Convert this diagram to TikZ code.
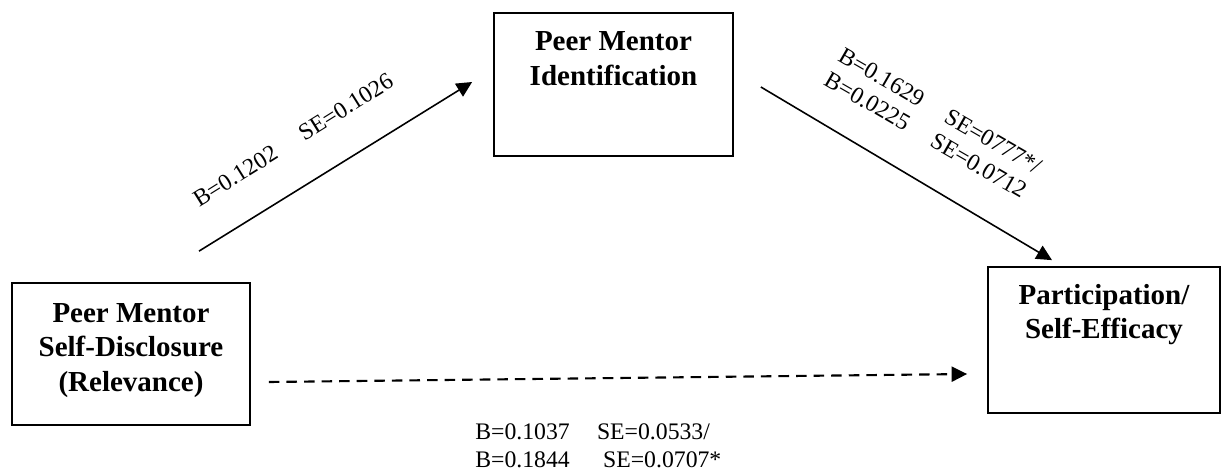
\documentclass[tikz,border=0pt]{standalone}
\usepackage{fontspec}
\setmainfont{Liberation Serif}
\usetikzlibrary{positioning,calc,arrows.meta}
\tikzset{
  box/.style ={draw,line width=1pt,inner sep=0pt},
  btxt/.style={align=center,inner sep=0pt,font=\fontsize{16.5}{19.5}\selectfont\bfseries},
  path/.style={-{Triangle[length=0.31cm,width=0.3cm]},line width=0.9pt},
  dpath/.style={path,dash pattern=on 6pt off 4pt,line width=1.2pt},
  lbl/.style ={inner sep=0pt,align=left,font=\fontsize{13.5}{16}\selectfont},
}
\begin{document}
\begin{tikzpicture}
\useasboundingbox (0,0) rectangle (24.44,-9.46);

% ===================== VARIAVEIS ====================================
\node[box,minimum width=4.76cm,minimum height=2.84cm] (src) at (2.62,-7.08) {};
\node[box,minimum width=4.78cm,minimum height=2.86cm] (med) at (12.27,-1.69) {};
\node[box,minimum width=4.64cm,minimum height=2.92cm] (out) at (22.08,-6.8) {};

\node[btxt,below=12pt of src.north] (srctxt) {Peer Mentor\\Self-Disclosure\\(Relevance)};
\node[btxt,below=11pt of med.north] (medtxt) {Peer Mentor\\Identification};
\node[btxt,below=10pt of out.north] (outtxt) {Participation/\\Self-Efficacy};

% ===================== CAMINHOS =====================================
\coordinate (as) at ($(src.north)+(1.36,0.62)$);
\coordinate (ae) at ($(med.west)+(-0.42,0.05)$);
\coordinate (bs) at ($(med.east)+(0.54,-0.05)$);
\coordinate (be) at ($(out.north)+(-1.04,0.12)$);
\coordinate (cs) at ($(src.east)+(0.36,-0.56)$);
\coordinate (ce) at ($(out.west)+(-0.40,-0.68)$);

\draw[path] (as) -- (ae);
\draw[path] (bs) -- (be);
\draw[dpath] (cs) -- (ce);

% ===================== COEFICIENTES =================================
\node[lbl,rotate=32] (la) at (5.86,-2.8) {B=0.1202\hspace{17pt}SE=0.1026};
\node[lbl,rotate=-30] (lb) at (18.66,-2.46)
  {B=0.1629\hspace{16pt}SE=0777*/\\B=0.0225\hspace{16pt}SE=0.0712};
\node[lbl,anchor=north west] (lc) at (9.5,-8.46)
  {B=0.1037\hspace{15.5pt}SE=0.0533/\\B=0.1844\hspace{19pt}SE=0.0707*};

\end{tikzpicture}
\end{document}
